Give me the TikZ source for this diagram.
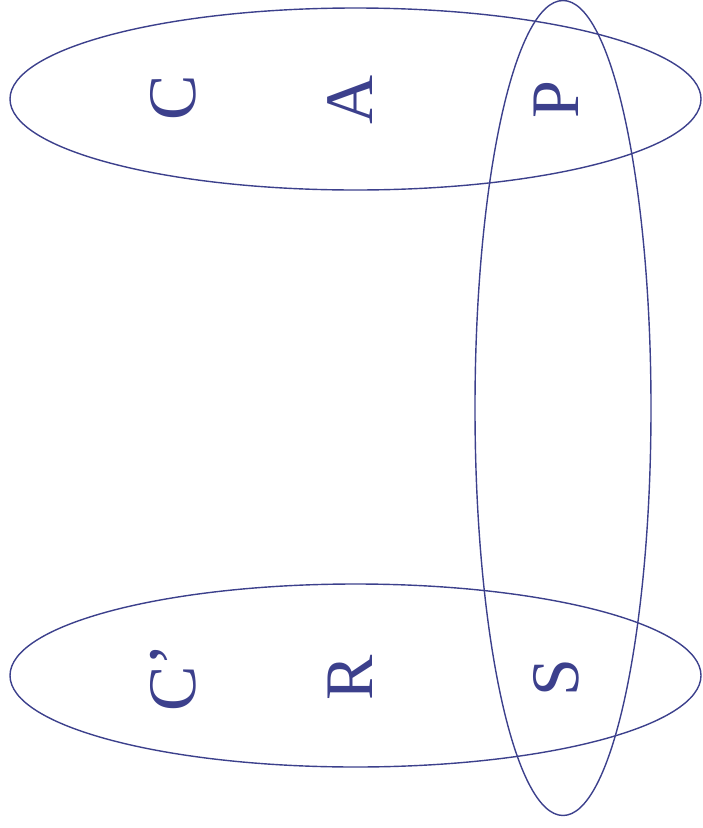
\documentclass[tikz,border=0pt]{standalone}
\usepackage{fontspec}
\setmainfont{Liberation Serif}
\definecolor{ink}{RGB}{60,64,140}
\begin{document}
\begin{tikzpicture}[x=1pt,y=-1pt,
  ring/.style={draw=ink,line width=1.4pt},
  letter/.style={text=ink,font=\fontsize{68}{68}\selectfont,rotate=90,anchor=base,inner sep=0pt}]
\useasboundingbox (0,0) rectangle (703,828);
\draw[ring] (355.5,99) ellipse [x radius=345.5,y radius=91];
\draw[ring] (355.5,675.5) ellipse [x radius=345.5,y radius=91.5];
\draw[ring] (563,408) ellipse [x radius=88,y radius=407.5];
\node[letter] (c) at (195,97.5) {C};
\node[letter] (a) at (372,100) {A};
\node[letter] (p) at (578,100) {P};
\node[letter] (cp) at (195,677.5) {C’};
\node[letter] (r) at (372,678) {R};
\node[letter] (s) at (578,677.5) {S};
\end{tikzpicture}
\end{document}
